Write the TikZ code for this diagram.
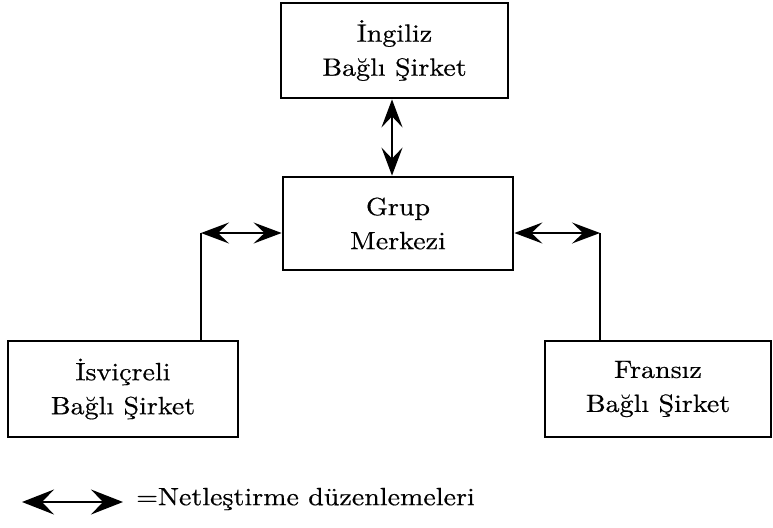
\documentclass[tikz,border=0pt]{standalone}
\usepackage{fontspec}
\setmainfont{lmroman10-regular.otf}[FakeStretch=1.12, FakeBold=0.5]
\usetikzlibrary{arrows.meta}

\tikzset{
  unit/.style={draw, line width=2.8pt, align=center, inner sep=0pt,
    font=\fontsize{25}{34}\selectfont},
  link/.style={line width=2pt},
  twoway/.style={link, {Stealth[length=28pt,width=21pt,inset=11pt]}-{Stealth[length=28pt,width=21pt,inset=11pt]}},
  legendarrow/.style={link, {Stealth[length=32pt,width=25pt,inset=12pt]}-{Stealth[length=32pt,width=25pt,inset=12pt]}},
}

\begin{document}
\begin{tikzpicture}[x=1pt,y=-1pt]
  \useasboundingbox (0,0) rectangle (773,527);

  % subsidiaries and the group head office
  \node[unit, minimum width=227pt, minimum height=95pt] (ing) at (394.5,50.5) {İngiliz\\Bağlı Şirket};
  \node[unit, minimum width=230pt, minimum height=93pt] (grup) at (398,223.5) {Grup\\Merkezi};
  \node[unit, minimum width=230pt, minimum height=96pt] (isv) at (123,389) {İsviçreli\\Bağlı Şirket};
  \node[unit, minimum width=226pt, minimum height=96pt] (fra) at (658,389) {Fransız\\Bağlı Şirket};

  % bend points of the side connectors
  \coordinate (vx) at (392,0);
  \coordinate (lc) at (201,233);
  \coordinate (rc) at (600,233);

  % netting links
  \draw[twoway] (ing.south -| vx) -- (grup.north -| vx);
  \draw[twoway] (lc) -- (grup.west |- lc);
  \draw[link] (lc) -- (isv.north -| lc);
  \draw[twoway] (grup.east |- rc) -- (rc);
  \draw[link] (rc) -- (fra.north -| rc);

  % legend
  \coordinate (la) at (22,502);
  \coordinate (lb) at (123,502);
  \draw[legendarrow] (la) -- (lb);
  \node[anchor=west, inner sep=0pt, font=\fontsize{25}{30}\selectfont] (legtext) at (136,499) {=Netleştirme düzenlemeleri};
\end{tikzpicture}
\end{document}
